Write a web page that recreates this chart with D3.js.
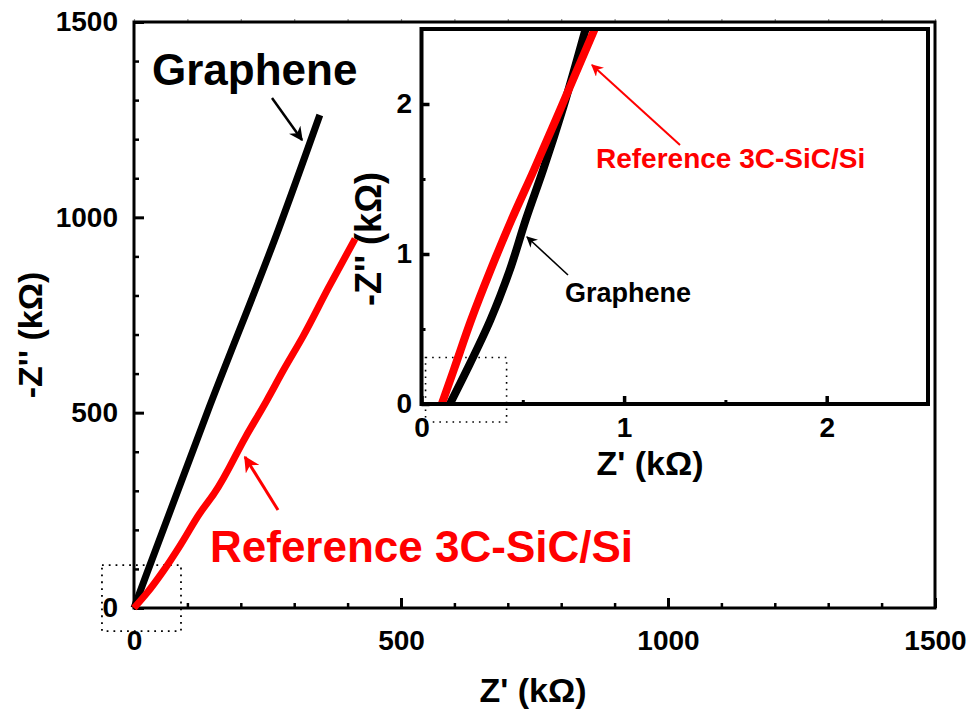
<!DOCTYPE html>
<html><head><meta charset="utf-8">
<script src="https://cdn.jsdelivr.net/npm/d3@7"></script>
<style>
html,body{margin:0;padding:0;background:#fff;}
text{font-family:"Liberation Sans",Arial,sans-serif;font-weight:bold;}
</style></head>
<body>
<svg id="chart" width="972" height="710"></svg>
<script>
// ---- data (kΩ) ----
const mainTicks = [0, 500, 1000, 1500];
const mainMinorTicks = [100,200,300,400,600,700,800,900,1100,1200,1300,1400];
const insetTicks = [0, 1, 2];
const insetMinorTicks = [0.5, 1.5];

// main panel series [Z', -Z'']
const grapheneMainX = [0, 25, 137, 270, 348];
const grapheneMainY = [0, 92, 500, 967, 1262];
const refMainX = [0, 24, 55, 90, 123, 150, 209, 249, 280, 316, 365, 414];
const refMainY = [0, 38, 95, 168, 242, 293, 438, 532, 609, 694, 822, 945];

// inset series
const grapheneInsetX = [0.14, 0.225, 0.34, 0.435, 0.515, 0.60, 0.70, 0.81];
const grapheneInsetY = [0.0, 0.23, 0.56, 0.89, 1.23, 1.56, 1.98, 2.5];
const refInsetX = [0.10, 0.16, 0.245, 0.34, 0.445, 0.555, 0.69, 0.855];
const refInsetY = [0.0, 0.23, 0.56, 0.89, 1.23, 1.56, 1.98, 2.5];

// zoom boxes (dotted)
const mainZoomBox = [-60, 88, -59, 110];   // x0,x1,y0,y1
const insetZoomBox = [0.02, 0.42, -0.12, 0.31];

const labels = {
  graphene: "Graphene",
  reference: "Reference 3C-SiC/Si",
  xTitle: "Z' (kΩ)",
  yTitle: "-Z'' (kΩ)"
};

// ---- drawing ----
const svg = d3.select("#chart");
const defs = svg.append("defs");
function marker(id, color, size){
  defs.append("marker").attr("id", id).attr("viewBox","0 0 10 10")
    .attr("refX", 9).attr("refY", 5).attr("markerUnits","userSpaceOnUse")
    .attr("markerWidth", size).attr("markerHeight", size).attr("orient","auto")
    .append("path").attr("d","M0,0 L10,5 L0,10 L3,5 Z").attr("fill", color);
}
marker("ahBlackBig","#000",14);
marker("ahRedBig","#f00",16);
marker("ahBlackSm","#000",11);
marker("ahRedSm","#f00",12);

const x = d3.scaleLinear().domain([0,1500]).range([134,935]);
const y = d3.scaleLinear().domain([0,1500]).range([608,22]);

const main = svg.append("g");
main.append("rect")
  .attr("x", x(mainZoomBox[0])).attr("y", y(mainZoomBox[3]))
  .attr("width", x(mainZoomBox[1]) - x(mainZoomBox[0]))
  .attr("height", y(mainZoomBox[2]) - y(mainZoomBox[3]))
  .attr("fill","none").attr("stroke","#000").attr("stroke-width",1.8)
  .attr("stroke-dasharray","1.8,5");

function styleAxis(g, w){
  g.select(".domain").remove();
  g.selectAll(".tick line").attr("stroke","#000").attr("stroke-width",w);
  g.selectAll("text").attr("fill","#000").style("font-size","28px").style("font-weight","bold");
}
main.append("g").attr("transform","translate(0,608)")
  .call(d3.axisBottom(x).tickValues(mainMinorTicks).tickFormat("").tickSizeInner(-5).tickSizeOuter(0))
  .call(g=>styleAxis(g,2.5));
main.append("g").attr("transform","translate(0,608)")
  .call(d3.axisBottom(x).tickValues(mainTicks).tickFormat(d3.format("d")).tickSizeInner(-10).tickSizeOuter(0).tickPadding(22))
  .call(g=>styleAxis(g,3));
main.append("g").attr("transform","translate(134,0)")
  .call(d3.axisLeft(y).tickValues(mainMinorTicks).tickFormat("").tickSizeInner(-5).tickSizeOuter(0))
  .call(g=>styleAxis(g,2.5));
main.append("g").attr("transform","translate(134,0)")
  .call(d3.axisLeft(y).tickValues(mainTicks).tickFormat(d3.format("d")).tickSizeInner(-10).tickSizeOuter(0).tickPadding(16))
  .call(g=>styleAxis(g,3));
main.append("g").attr("transform","translate(0,22)")
  .call(d3.axisTop(x).tickValues(mainMinorTicks.concat(mainTicks)).tickFormat("").tickSizeInner(3).tickSizeOuter(0))
  .call(g=>{styleAxis(g,1.2); g.selectAll(".tick line").attr("stroke","#888");});

main.append("rect").attr("x",134).attr("y",22).attr("width",935-134).attr("height",608-22)
  .attr("fill","none").attr("stroke","#000").attr("stroke-width",3);

const lineMain = d3.line().x(d=>x(d[0])).y(d=>y(d[1])).curve(d3.curveMonotoneY);
main.append("path").datum(d3.zip(grapheneMainX, grapheneMainY))
  .attr("d", lineMain).attr("fill","none").attr("stroke","#000").attr("stroke-width",7).attr("stroke-linejoin","round");
main.append("path").datum(d3.zip(refMainX, refMainY))
  .attr("d", lineMain).attr("fill","none").attr("stroke","#f00").attr("stroke-width",7).attr("stroke-linejoin","round");

main.append("text").attr("x",152).attr("y",85).style("font-size","44px").attr("fill","#000").text(labels.graphene);
main.append("line").attr("x1",272).attr("y1",98).attr("x2",302).attr("y2",140)
  .attr("stroke","#000").attr("stroke-width",2.5).attr("marker-end","url(#ahBlackBig)");
main.append("text").attr("x",210).attr("y",562).style("font-size","44px").attr("fill","#f00").text(labels.reference);
main.append("line").attr("x1",278).attr("y1",510).attr("x2",245).attr("y2",457)
  .attr("stroke","#f00").attr("stroke-width",3).attr("marker-end","url(#ahRedBig)");

main.append("text").attr("x",533).attr("y",702).attr("text-anchor","middle").style("font-size","34px").text(labels.xTitle);
main.append("text").attr("transform","translate(42,335) rotate(-90)").attr("text-anchor","middle").style("font-size","34px").text(labels.yTitle);

// ---- inset ----
const xi = d3.scaleLinear().domain([0,2.5]).range([421.5,928]);
const yi = d3.scaleLinear().domain([0,2.5]).range([404,29]);
const inset = svg.append("g");
inset.append("rect").attr("x",421.5).attr("y",29).attr("width",928-421.5).attr("height",404-29).attr("fill","#fff");
defs.append("clipPath").attr("id","insetClip").append("rect")
  .attr("x",421.5).attr("y",29).attr("width",928-421.5).attr("height",404-29);

inset.append("rect")
  .attr("x", xi(insetZoomBox[0])).attr("y", yi(insetZoomBox[3]))
  .attr("width", xi(insetZoomBox[1]) - xi(insetZoomBox[0]))
  .attr("height", yi(insetZoomBox[2]) - yi(insetZoomBox[3]))
  .attr("fill","none").attr("stroke","#000").attr("stroke-width",1.6)
  .attr("stroke-dasharray","1.6,5");

inset.append("g").attr("transform","translate(0,404)")
  .call(d3.axisBottom(xi).tickValues(insetMinorTicks).tickFormat("").tickSizeInner(-4).tickSizeOuter(0))
  .call(g=>styleAxis(g,3));
inset.append("g").attr("transform","translate(0,404)")
  .call(d3.axisBottom(xi).tickValues(insetTicks).tickFormat(d3.format("d")).tickSizeInner(-8).tickSizeOuter(0).tickPadding(13))
  .call(g=>styleAxis(g,3.5));
inset.append("g").attr("transform","translate(421.5,0)")
  .call(d3.axisLeft(yi).tickValues(insetMinorTicks).tickFormat("").tickSizeInner(-4).tickSizeOuter(0))
  .call(g=>styleAxis(g,3));
inset.append("g").attr("transform","translate(421.5,0)")
  .call(d3.axisLeft(yi).tickValues(insetTicks).tickFormat(d3.format("d")).tickSizeInner(-8).tickSizeOuter(0).tickPadding(9.5))
  .call(g=>styleAxis(g,3.5));

const lineInset = d3.line().x(d=>xi(d[0])).y(d=>yi(d[1])).curve(d3.curveMonotoneY);
const ig = inset.append("g").attr("clip-path","url(#insetClip)");
ig.append("path").datum(d3.zip(grapheneInsetX, grapheneInsetY))
  .attr("d", lineInset).attr("fill","none").attr("stroke","#000").attr("stroke-width",8);
ig.append("path").datum(d3.zip(refInsetX, refInsetY))
  .attr("d", lineInset).attr("fill","none").attr("stroke","#f00").attr("stroke-width",8);

inset.append("rect").attr("x",421.5).attr("y",29).attr("width",928-421.5).attr("height",404-29)
  .attr("fill","none").attr("stroke","#000").attr("stroke-width",4);

inset.append("text").attr("x",596).attr("y",168).style("font-size","28px").attr("fill","#f00").text(labels.reference);
inset.append("line").attr("x1",680).attr("y1",145).attr("x2",592).attr("y2",65)
  .attr("stroke","#f00").attr("stroke-width",2).attr("marker-end","url(#ahRedSm)");
inset.append("text").attr("x",565).attr("y",302).style("font-size","27px").attr("fill","#000").text(labels.graphene);
inset.append("line").attr("x1",568).attr("y1",275).attr("x2",527).attr("y2",237)
  .attr("stroke","#000").attr("stroke-width",1.6).attr("marker-end","url(#ahBlackSm)");

inset.append("text").attr("x",650).attr("y",475).attr("text-anchor","middle").style("font-size","34px").text(labels.xTitle);
inset.append("text").attr("transform","translate(381,239) rotate(-90)").attr("text-anchor","middle").style("font-size","36px").text(labels.yTitle);
</script>
</body></html>
